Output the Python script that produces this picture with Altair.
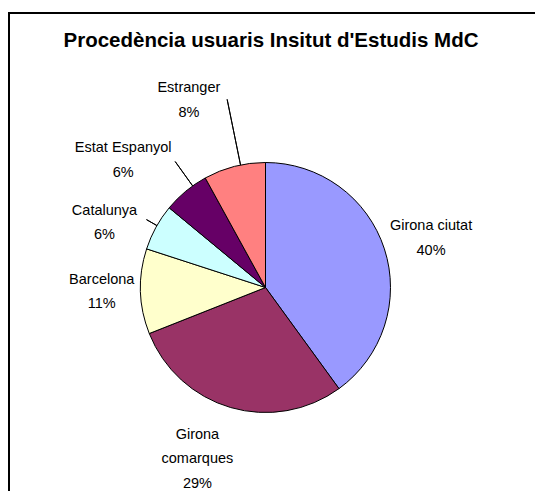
import math
import altair as alt
import pandas as pd

# ---------------- data ----------------
title_text = "Procedència usuaris Insitut d'Estudis MdC"
categories = ["Girona ciutat", "Girona comarques", "Barcelona", "Catalunya", "Estat Espanyol", "Estranger"]
label_names = ["Girona ciutat", "Girona\ncomarques", "Barcelona", "Catalunya", "Estat Espanyol", "Estranger"]
percent = [40, 29, 11, 6, 6, 8]

# ---------------- styles / layout ----------------
colors = ["#9999FF", "#993366", "#FFFFCC", "#CCFFFF", "#660066", "#FF8080"]
# polar anchor of each label's first line: radius (px) and nudge from slice middle (percent units)
label_radius = [177, 161, 164, 179, 200, 215]
label_nudge = [-0.75, 2.45, 1.4, -0.8, -1.6, -1.8]
leader_outer = [0, 0, 0, 137, 155, 192]
leader_nudge = [0, 0, 0, 0.25, 1.1, 0.8]

PIE_R = 125
CX, CY = 257.5, 279.5
LABEL_CY = CY + 1.5
W, H = 527, 483
FONT = "Liberation Sans, Arial"

df = pd.DataFrame({"category": categories, "name": label_names, "percent": percent})
df["end"] = df["percent"].cumsum()
df["start"] = df["end"] - df["percent"]
df["mid"] = (df["start"] + df["end"]) / 2
df["label_theta"] = df["mid"] + pd.Series(label_nudge)
df["label_r"] = label_radius
df["text"] = df["name"] + "\n" + df["percent"].astype(str) + "%"
df["lead_theta"] = df["mid"] + pd.Series(leader_nudge)
df["lead_r"] = leader_outer
lead_df = df[df["lead_r"] > 0]

theta_scale = alt.Scale(domain=[0, 100], range=[0, 2 * math.pi])

pie = alt.Chart(df).mark_arc(radius=PIE_R, stroke="black", strokeWidth=1).encode(
    theta=alt.Theta("start:Q", scale=theta_scale, stack=False),
    theta2="end:Q",
    color=alt.Color("category:N", scale=alt.Scale(domain=categories, range=colors), legend=None),
    x=alt.value(CX),
    y=alt.value(CY),
)

leaders = alt.Chart(lead_df).mark_arc(radius2=PIE_R, stroke="black", strokeWidth=1, fillOpacity=0).encode(
    theta=alt.Theta("lead_theta:Q", scale=theta_scale, stack=False),
    theta2="lead_theta:Q",
    radius=alt.Radius("lead_r:Q", scale=None),
    x=alt.value(CX),
    y=alt.value(CY),
)

labels = alt.Chart(df).mark_text(
    font=FONT, fontSize=14.5, lineBreak="\n", lineHeight=24.5,
    align="center", baseline="middle", color="black",
).encode(
    theta=alt.Theta("label_theta:Q", scale=theta_scale, stack=False),
    radius=alt.Radius("label_r:Q", scale=None),
    text="text:N",
    x=alt.value(CX),
    y=alt.value(LABEL_CY),
)

one = pd.DataFrame({"t": [title_text]})
title = alt.Chart(one).mark_text(
    font=FONT, fontSize=20.5, fontWeight="bold", align="center", baseline="middle", color="black"
).encode(text="t:N", x=alt.value(263), y=alt.value(33))

frame_left = alt.Chart(one).mark_rule(color="black", strokeWidth=2).encode(
    x=alt.value(1), y=alt.value(5), y2=alt.value(H)
)
frame_top = alt.Chart(one).mark_rule(color="black", strokeWidth=2).encode(
    x=alt.value(0), x2=alt.value(W), y=alt.value(5)
)

chart = alt.layer(frame_left, frame_top, pie, leaders, labels, title).properties(
    width=W, height=H, padding=0, autosize=alt.AutoSizeParams(type="none"),
    background="white",
).configure_view(stroke=None)

chart.save("out.html", embed_options={"renderer": "svg", "actions": False})
